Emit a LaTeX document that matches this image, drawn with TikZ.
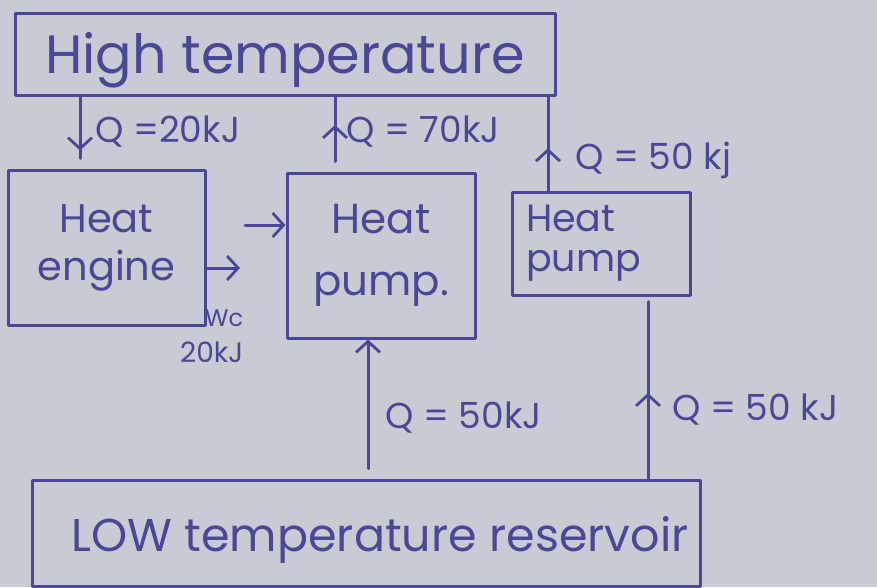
\documentclass[tikz,border=0pt]{standalone}
\usepackage{fontspec}
\setmainfont{Poppins}
\usetikzlibrary{arrows.meta,decorations.markings}
\definecolor{bg}{RGB}{201,203,212}
\definecolor{ink}{RGB}{72,72,150}
\tikzset{
  ink/.style={draw=ink, line width=3pt, line cap=round, line join=round},
  box/.style={ink, rectangle, inner sep=0pt, text=ink, align=center},
  lbl/.style={text=ink, inner sep=0pt, font=\fontsize{36}{38}\selectfont},
  tip/.tip={Straight Barb[length=11pt,width=24pt,line width=2.8pt]},
  midarr/.style={postaction=decorate, decoration={markings, mark=at position #1 with {\arrow{tip}}}},
}
\begin{document}
\begin{tikzpicture}[x=1pt,y=-1pt]
\fill[bg] (0,0) rectangle (877,587);
\useasboundingbox (0,0) rectangle (877,587);
% boxes
\node[box, minimum width=540pt, minimum height=82pt] (high) at (285,54) {};
\node[lbl, font=\fontsize{54}{56}\selectfont] (hight) at (285,60) {High temperature};
\node[box, minimum width=197pt, minimum height=155pt, font=\fontsize{40}{48}\selectfont] (engine) at (106.5,247.5) {Heat\\engine};
\node[box, minimum width=188pt, minimum height=165pt, font=\fontsize{42}{62}\selectfont] (pumpa) at (381,255.5) {Heat\\pump.};
\node[box, minimum width=178pt, minimum height=103pt, font=\fontsize{38}{40}\selectfont, align=left, text width=150pt] (pumpb) at (601,243.5) {Heat\\pump};
\node[box, minimum width=668pt, minimum height=106pt] (low) at (366,533) {};
\node[lbl, font=\fontsize{46}{48}\selectfont] (lowt) at (380,540) {LOW temperature reservoir};
% connector positions
\coordinate (xa) at (80,0);
\coordinate (xb) at (335,0);
\coordinate (xc) at (548,0);
\coordinate (xd) at (368,0);
\coordinate (xe) at (648,0);
\coordinate (wa) at (245,225);
\coordinate (wb) at (240,268);
% connectors
\draw[ink, midarr=0.75, shorten >=10pt] (high.south -| xa) -- (engine.north -| xa);
\draw[ink, midarr=0.62, shorten <=10pt] (pumpa.north -| xb) -- (high.south -| xb);
\draw[ink, midarr=0.45] (pumpb.north -| xc) -- (high.south -| xc);
\draw[ink, -{tip}, shorten <=10pt] (low.north -| xd) -- (pumpa.south -| xd);
\draw[ink, midarr=0.47, shorten >=5pt] (low.north -| xe) -- (pumpb.south -| xe);
\draw[ink, -{tip}] (wa) -- (wa -| pumpa.west);
\draw[ink, -{tip}] (wb -| engine.east) -- (wb);
% labels
\node[lbl, anchor=west] (la) at (95,132) {Q =20kJ};
\node[lbl, anchor=west] (lb) at (346,132) {Q = 70kJ};
\node[lbl, anchor=west] (lc) at (575,160) {Q = 50 kj};
\node[lbl, anchor=west] (ld) at (385,418) {Q = 50kJ};
\node[lbl, anchor=west] (le) at (672,410) {Q = 50 kJ};
\node[lbl, anchor=west, font=\fontsize{24}{26}\selectfont] (lw) at (205,318) {Wc};
\node[lbl, anchor=west, font=\fontsize{28}{30}\selectfont] (lw2) at (180,352) {20kJ};
\end{tikzpicture}
\end{document}
